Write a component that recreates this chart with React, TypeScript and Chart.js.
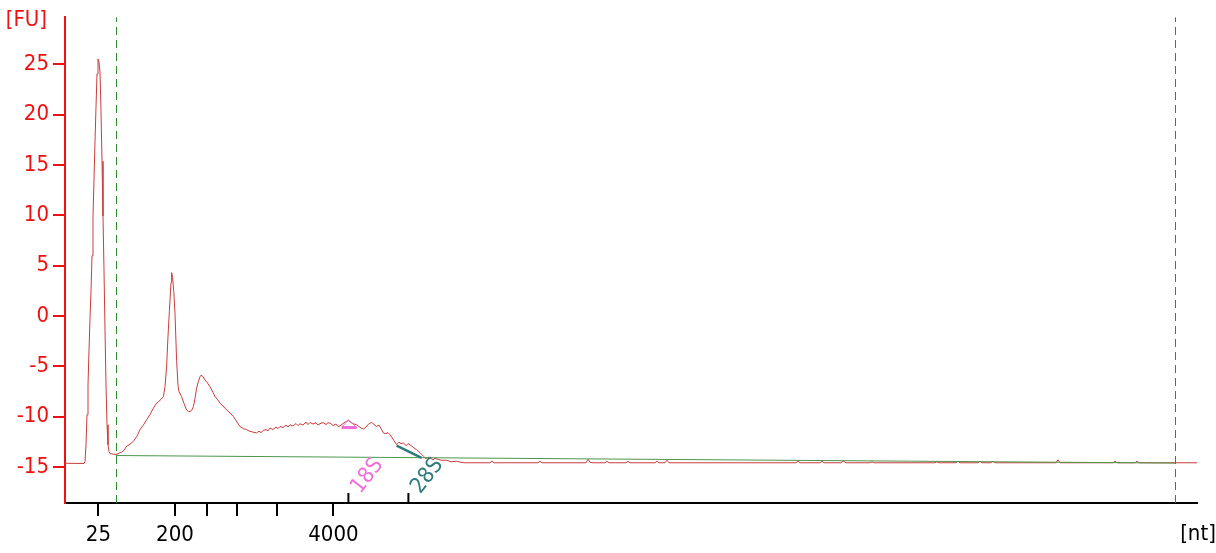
import React, { useEffect, useRef } from 'react';
import { Chart, registerables } from 'chart.js';

Chart.register(...registerables);

// Electropherogram trace: [migration time (s), fluorescence (FU)]
const trace: [number, number][] = [
  [18.0, -14.65], [18.95, -14.67], [19.0, -14.48], [19.05, -12.8], [19.1, -9.83],
  [19.15, -6.87], [19.2, -3.41], [19.25, -0.25], [19.3, 2.52], [19.35, 5.98],
  [19.4, 9.93], [19.45, 13.59], [19.5, 17.34], [19.55, 20.8], [19.6, 24.06],
  [19.65, 25.54], [19.7, 25.25], [19.75, 24.26], [19.8, 20.3], [19.85, 15.37],
  [19.9, 9.93], [19.95, 4.5], [20.0, -1.43], [20.05, -6.87], [20.1, -10.82],
  [20.15, -12.8], [20.2, -13.49], [20.25, -13.69], [20.35, -13.72], [20.55, -13.78],
  [20.62, -13.7], [20.83, -13.55], [20.95, -13.35], [21.08, -12.96], [21.25, -12.75],
  [21.42, -12.47], [21.6, -11.95], [21.75, -11.31], [21.92, -10.85], [22.08, -10.33],
  [22.25, -9.8], [22.42, -9.17], [22.55, -8.75], [22.67, -8.52], [22.8, -8.3],
  [22.92, -8.02], [23.0, -7.04], [23.08, -5.06], [23.15, -2.0], [23.22, 0.54],
  [23.3, 3.3], [23.33, 4.3], [23.38, 3.83], [23.44, 2.4], [23.5, 0.22],
  [23.58, -4.4], [23.65, -6.9], [23.7, -7.53], [23.83, -8.02], [23.95, -8.7],
  [24.08, -9.34], [24.17, -9.5], [24.25, -9.51], [24.33, -9.4], [24.42, -9.01],
  [24.5, -8.2], [24.58, -7.19], [24.67, -6.5], [24.75, -6.05], [24.8, -5.9],
  [24.88, -5.98], [25.0, -6.37], [25.1, -6.6], [25.25, -7.04], [25.4, -7.6],
  [25.5, -8.02], [25.62, -8.3], [25.75, -8.68], [25.9, -8.95], [26.08, -9.34],
  [26.25, -9.65], [26.42, -10.0], [26.6, -10.55], [26.75, -10.99], [26.92, -11.2],
  [27.08, -11.31], [27.25, -11.48], [27.4, -11.55], [27.58, -11.64], [27.7, -11.45],
  [27.8, -11.6], [27.92, -11.38], [28.05, -11.3], [28.15, -11.42], [28.25, -11.15],
  [28.4, -11.3], [28.55, -11.05], [28.65, -11.2], [28.75, -10.99], [28.9, -11.1],
  [29.05, -10.85], [29.15, -11.05], [29.25, -10.82], [29.4, -10.95], [29.55, -10.7],
  [29.65, -10.9], [29.75, -10.72], [29.9, -10.85], [30.05, -10.55], [30.15, -10.8],
  [30.25, -10.59], [30.4, -10.75], [30.55, -10.62], [30.65, -10.85], [30.75, -10.72],
  [30.9, -10.6], [31.05, -10.8], [31.15, -10.62], [31.25, -10.65], [31.4, -10.9],
  [31.55, -10.75], [31.65, -11.0], [31.75, -10.92], [31.9, -10.7], [32.05, -10.5],
  [32.17, -10.4], [32.3, -10.6], [32.45, -10.75], [32.58, -10.82], [32.7, -11.0],
  [32.8, -11.15], [32.92, -11.25], [33.05, -11.05], [33.2, -10.7], [33.33, -10.59],
  [33.45, -10.8], [33.58, -10.99], [33.7, -10.85], [33.8, -11.2], [33.92, -11.64],
  [34.05, -11.7], [34.15, -11.6], [34.25, -11.81], [34.35, -12.1], [34.45, -12.4],
  [34.58, -12.8], [34.7, -12.55], [34.8, -12.7], [34.92, -12.63], [35.05, -12.9],
  [35.15, -12.7], [35.25, -12.8], [35.4, -13.05], [35.5, -13.2], [35.58, -13.29],
  [35.75, -13.6], [35.92, -13.95], [36.05, -14.2], [36.15, -14.05], [36.25, -14.11],
  [36.4, -14.3], [36.5, -14.15], [36.58, -14.21], [36.8, -14.35], [37.08, -14.35],
  [37.3, -14.5], [37.58, -14.45], [37.8, -14.55], [38.0, -14.6],
  [39.25, -14.6], [39.35, -14.42], [39.45, -14.6],
  [41.65, -14.6], [41.75, -14.45], [41.85, -14.6],
  [44.05, -14.6], [44.15, -14.25], [44.25, -14.55], [44.4, -14.6],
  [45.0, -14.6], [45.1, -14.45], [45.2, -14.6],
  [46.05, -14.6], [46.15, -14.45], [46.25, -14.6],
  [47.5, -14.6], [47.6, -14.45], [47.7, -14.6],
  [48.0, -14.6], [48.1, -14.35], [48.2, -14.6],
  [54.55, -14.6], [54.65, -14.45], [54.75, -14.6],
  [55.75, -14.6], [55.85, -14.45], [55.95, -14.6],
  [56.8, -14.6], [56.9, -14.42], [57.05, -14.6],
  [58.25, -14.6], [58.35, -14.5], [58.45, -14.6],
  [61.5, -14.6], [61.6, -14.5], [61.7, -14.6],
  [62.55, -14.6], [62.65, -14.45], [62.75, -14.6],
  [63.65, -14.6], [63.75, -14.45], [63.85, -14.6],
  [64.3, -14.6], [64.4, -14.45], [64.5, -14.6],
  [67.55, -14.6], [67.65, -14.3], [67.75, -14.6],
  [70.4, -14.6], [70.5, -14.45], [70.6, -14.6],
  [71.5, -14.6], [71.6, -14.45], [71.7, -14.6],
  [74.6, -14.6],
];

const xRange = [18, 74.6];
const yRange = [-18.6, 29.7];
const yTicks = [-15, -10, -5, 0, 5, 10, 15, 20, 25];

// Ladder positions (s) and their nt labels
const ladderTime = [19.67, 23.5, 25.08, 26.58, 28.58, 31.42];
const ladderLabels = ['25', '200', '', '', '', '4000'];

// rRNA fragment markers
const rRnaTime = [32.17, 35.17];
const rRnaLabels = ['18S', '28S'];
const rRnaColors = ['#f26fd9', '#2f7b7b'];

// Analysis window (dashed) and baseline
const windowTime = [20.575, 73.525];
const baselineTime = [20.55, 73.5];
const baselineFU = [-13.88, -14.63];

// Peak annotations
const peak18sTime = [31.83, 32.17, 32.58];
const peak18sFU = [-11.09, -10.33, -11.09];
const peak28sTime = [34.58, 35.83];
const peak28sFU = [-12.9, -14.11];

const FONT = 'DejaVu Sans Condensed, DejaVu Sans';
const FS = 22;
const RED = '#ee1111';

export default function App() {
  const ref = useRef<HTMLCanvasElement | null>(null);

  useEffect(() => {
    if (!ref.current) return;

    const datasets: any[] = [
      {
        data: trace.map(([x, y]) => ({ x, y })),
        borderColor: '#cc3c3c',
        borderWidth: 1,
        order: 5,
      },
      {
        data: baselineTime.map((x, i) => ({ x, y: baselineFU[i] })),
        borderColor: '#4a964a',
        borderWidth: 1,
        order: 4,
      },
      ...windowTime.map((x) => ({
        data: [{ x, y: yRange[0] }, { x, y: yRange[1] }],
        borderColor: '#2f8a2f',
        borderWidth: 1,
        borderDash: [8, 5],
        order: 6,
      })),
      {
        data: peak18sTime.map((x, i) => ({ x, y: peak18sFU[i] })),
        borderColor: rRnaColors[0],
        borderWidth: 1,
        order: 2,
      },
      {
        data: [
          { x: peak18sTime[0], y: peak18sFU[0] },
          { x: peak18sTime[2], y: peak18sFU[2] },
        ],
        borderColor: rRnaColors[0],
        borderWidth: 3,
        order: 2,
      },
      {
        data: peak28sTime.map((x, i) => ({ x, y: peak28sFU[i] })),
        borderColor: rRnaColors[1],
        borderWidth: 2.5,
        order: 2,
      },
      ...rRnaTime.map((x) => ({
        data: [{ x, y: yRange[0] }, { x, y: yRange[0] + 1 }],
        borderColor: '#000',
        borderWidth: 2,
        order: 1,
      })),
    ];
    datasets.forEach((d) => {
      d.pointRadius = 0;
      d.tension = 0;
      d.fill = false;
    });

    const textPlugin = {
      id: 'texts',
      afterDraw(chart: any) {
        const { ctx, chartArea, scales } = chart;
        ctx.save();
        ctx.font = `${FS}px ${FONT}`;
        ctx.textBaseline = 'middle';
        ctx.fillStyle = RED;
        ctx.textAlign = 'right';
        ctx.fillText('[FU]', chartArea.left - 18, chartArea.top + 3);
        ctx.fillStyle = '#000';
        ctx.textAlign = 'center';
        ctx.fillText('[nt]', chartArea.right + 1, chartArea.bottom + 31);
        rRnaTime.forEach((t, i) => {
          const px = scales.x.getPixelForValue(t);
          ctx.save();
          ctx.translate(px + 19, chartArea.bottom - 27);
          ctx.rotate((-52 * Math.PI) / 180);
          ctx.fillStyle = rRnaColors[i];
          ctx.textAlign = 'center';
          ctx.textBaseline = 'middle';
          ctx.fillText(rRnaLabels[i], 0, 0);
          ctx.restore();
        });
        ctx.restore();
      },
    };

    const chart = new Chart(ref.current, {
      type: 'line',
      data: { datasets },
      plugins: [textPlugin],
      options: {
        animation: false,
        responsive: false,
        maintainAspectRatio: false,
        layout: { padding: { left: 0, right: 19, top: 15, bottom: 0 } },
        plugins: { legend: { display: false }, tooltip: { enabled: false } },
        scales: {
          x: {
            type: 'linear',
            min: xRange[0],
            max: xRange[1],
            afterFit: (s: any) => {
              s.height = 50;
            },
            afterBuildTicks: (s: any) => {
              s.ticks = ladderTime.map((v) => ({ value: v }));
            },
            ticks: {
              autoSkip: false,
              maxRotation: 0,
              minRotation: 0,
              color: '#000',
              padding: 6,
              font: { family: FONT, size: FS },
              callback: (_v: any, i: number) => ladderLabels[i],
            },
            grid: {
              drawOnChartArea: false,
              drawTicks: true,
              tickLength: 13,
              color: '#000',
              lineWidth: 2,
            },
            border: { color: '#000', width: 2 },
          },
          y: {
            type: 'linear',
            min: yRange[0],
            max: yRange[1],
            afterFit: (s: any) => {
              s.width = 65;
            },
            afterBuildTicks: (s: any) => {
              s.ticks = yTicks.map((v) => ({ value: v }));
            },
            ticks: {
              color: RED,
              padding: 4,
              font: { family: FONT, size: FS },
              callback: (v: any) => String(v),
            },
            grid: {
              drawOnChartArea: false,
              drawTicks: true,
              tickLength: 12,
              color: RED,
              lineWidth: 2,
            },
            border: { color: RED, width: 2 },
          },
        },
      },
    });

    return () => chart.destroy();
  }, []);

  return (
    <div
      style={{
        position: 'fixed',
        left: 0,
        top: 0,
        width: 1216,
        height: 553,
        background: '#fff',
      }}
    >
      <canvas ref={ref} width={1216} height={553} />
    </div>
  );
}
